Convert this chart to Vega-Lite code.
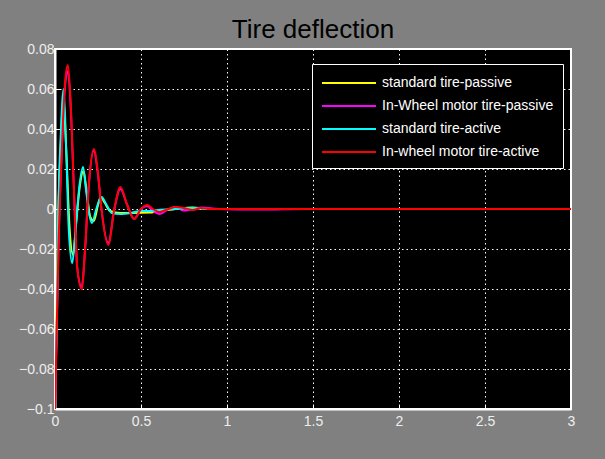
{
  "$schema": "https://vega.github.io/schema/vega-lite/v6.json",
  "width": 516,
  "height": 360,
  "autosize": {"type": "none"},
  "padding": {"left": 55, "top": 49, "right": 34, "bottom": 50},
  "background": "#808080",
  "title": {"text": "Tire deflection", "fontSize": 26, "font": "Liberation Sans", "fontWeight": "normal", "color": "#000000", "offset": -1, "anchor": "middle"},
  "config": {
    "view": {"fill": "#000000", "stroke": "#ffffff", "strokeWidth": 2},
    "axis": {
      "labelFont": "Liberation Sans", "labelFontSize": 14, "labelColor": "#eeeeee",
      "domainColor": "#ffffff", "domainWidth": 2, "tickColor": "#ffffff", "tickSize": -5,
      "gridColor": "#ffffff", "gridDash": [1.5, 3], "gridOpacity": 1, "gridWidth": 1,
      "title": null
    }
  },
  "data": {"values": [
    {"s": "standard tire-passive", "t": 0, "v": -0.085},
    {"s": "standard tire-passive", "t": 0.01, "v": -0.05},
    {"s": "standard tire-passive", "t": 0.02, "v": 0},
    {"s": "standard tire-passive", "t": 0.035, "v": 0.035},
    {"s": "standard tire-passive", "t": 0.048, "v": 0.056},
    {"s": "standard tire-passive", "t": 0.065, "v": 0.03},
    {"s": "standard tire-passive", "t": 0.085, "v": -0.01},
    {"s": "standard tire-passive", "t": 0.105, "v": -0.023},
    {"s": "standard tire-passive", "t": 0.125, "v": -0.005},
    {"s": "standard tire-passive", "t": 0.145, "v": 0.012},
    {"s": "standard tire-passive", "t": 0.165, "v": 0.019},
    {"s": "standard tire-passive", "t": 0.185, "v": 0.008},
    {"s": "standard tire-passive", "t": 0.205, "v": -0.004},
    {"s": "standard tire-passive", "t": 0.225, "v": -0.006},
    {"s": "standard tire-passive", "t": 0.25, "v": 0.002},
    {"s": "standard tire-passive", "t": 0.265, "v": 0.006},
    {"s": "standard tire-passive", "t": 0.29, "v": 0.003},
    {"s": "standard tire-passive", "t": 0.32, "v": -0.001},
    {"s": "standard tire-passive", "t": 0.38, "v": -0.002},
    {"s": "standard tire-passive", "t": 0.45, "v": -0.002},
    {"s": "standard tire-passive", "t": 0.55, "v": -0.0018},
    {"s": "standard tire-passive", "t": 0.6, "v": -0.001},
    {"s": "standard tire-passive", "t": 0.7, "v": 0},
    {"s": "standard tire-passive", "t": 0.8, "v": 0.0008},
    {"s": "standard tire-passive", "t": 0.9, "v": 0},
    {"s": "standard tire-passive", "t": 3, "v": 0},

    {"s": "In-Wheel motor tire-passive", "t": 0, "v": -0.098},
    {"s": "In-Wheel motor tire-passive", "t": 0.01, "v": -0.06},
    {"s": "In-Wheel motor tire-passive", "t": 0.02, "v": -0.02},
    {"s": "In-Wheel motor tire-passive", "t": 0.04, "v": 0.03},
    {"s": "In-Wheel motor tire-passive", "t": 0.06, "v": 0.063},
    {"s": "In-Wheel motor tire-passive", "t": 0.075, "v": 0.069},
    {"s": "In-Wheel motor tire-passive", "t": 0.09, "v": 0.053},
    {"s": "In-Wheel motor tire-passive", "t": 0.11, "v": 0.01},
    {"s": "In-Wheel motor tire-passive", "t": 0.13, "v": -0.03},
    {"s": "In-Wheel motor tire-passive", "t": 0.155, "v": -0.039},
    {"s": "In-Wheel motor tire-passive", "t": 0.175, "v": -0.02},
    {"s": "In-Wheel motor tire-passive", "t": 0.195, "v": 0.01},
    {"s": "In-Wheel motor tire-passive", "t": 0.225, "v": 0.029},
    {"s": "In-Wheel motor tire-passive", "t": 0.25, "v": 0.017},
    {"s": "In-Wheel motor tire-passive", "t": 0.27, "v": 0},
    {"s": "In-Wheel motor tire-passive", "t": 0.31, "v": -0.017},
    {"s": "In-Wheel motor tire-passive", "t": 0.345, "v": 0},
    {"s": "In-Wheel motor tire-passive", "t": 0.38, "v": 0.01},
    {"s": "In-Wheel motor tire-passive", "t": 0.42, "v": 0.002},
    {"s": "In-Wheel motor tire-passive", "t": 0.46, "v": -0.005},
    {"s": "In-Wheel motor tire-passive", "t": 0.5, "v": 0},
    {"s": "In-Wheel motor tire-passive", "t": 0.535, "v": 0.0015},
    {"s": "In-Wheel motor tire-passive", "t": 0.57, "v": -0.001},
    {"s": "In-Wheel motor tire-passive", "t": 0.61, "v": -0.0025},
    {"s": "In-Wheel motor tire-passive", "t": 0.66, "v": 0},
    {"s": "In-Wheel motor tire-passive", "t": 0.7, "v": 0.001},
    {"s": "In-Wheel motor tire-passive", "t": 0.75, "v": -0.0008},
    {"s": "In-Wheel motor tire-passive", "t": 0.85, "v": 0.0007},
    {"s": "In-Wheel motor tire-passive", "t": 0.95, "v": 0},
    {"s": "In-Wheel motor tire-passive", "t": 1.2, "v": -0.0003},
    {"s": "In-Wheel motor tire-passive", "t": 1.45, "v": 0},
    {"s": "In-Wheel motor tire-passive", "t": 3, "v": 0},

    {"s": "standard tire-active", "t": 0, "v": -0.09},
    {"s": "standard tire-active", "t": 0.01, "v": -0.06},
    {"s": "standard tire-active", "t": 0.02, "v": 0},
    {"s": "standard tire-active", "t": 0.035, "v": 0.04},
    {"s": "standard tire-active", "t": 0.05, "v": 0.06},
    {"s": "standard tire-active", "t": 0.065, "v": 0.03},
    {"s": "standard tire-active", "t": 0.08, "v": -0.01},
    {"s": "standard tire-active", "t": 0.1, "v": -0.027},
    {"s": "standard tire-active", "t": 0.12, "v": -0.01},
    {"s": "standard tire-active", "t": 0.14, "v": 0.01},
    {"s": "standard tire-active", "t": 0.163, "v": 0.021},
    {"s": "standard tire-active", "t": 0.18, "v": 0.01},
    {"s": "standard tire-active", "t": 0.2, "v": -0.003},
    {"s": "standard tire-active", "t": 0.215, "v": -0.007},
    {"s": "standard tire-active", "t": 0.24, "v": 0},
    {"s": "standard tire-active", "t": 0.27, "v": 0.006},
    {"s": "standard tire-active", "t": 0.3, "v": 0.002},
    {"s": "standard tire-active", "t": 0.33, "v": -0.002},
    {"s": "standard tire-active", "t": 0.38, "v": -0.0025},
    {"s": "standard tire-active", "t": 0.44, "v": -0.002},
    {"s": "standard tire-active", "t": 0.5, "v": -0.001},
    {"s": "standard tire-active", "t": 0.55, "v": -0.001},
    {"s": "standard tire-active", "t": 0.6, "v": -0.0005},
    {"s": "standard tire-active", "t": 0.7, "v": 0},
    {"s": "standard tire-active", "t": 0.8, "v": 0.0005},
    {"s": "standard tire-active", "t": 0.9, "v": 0},
    {"s": "standard tire-active", "t": 3, "v": 0},

    {"s": "In-wheel motor tire-active", "t": 0, "v": -0.1},
    {"s": "In-wheel motor tire-active", "t": 0.01, "v": -0.06},
    {"s": "In-wheel motor tire-active", "t": 0.02, "v": -0.02},
    {"s": "In-wheel motor tire-active", "t": 0.04, "v": 0.03},
    {"s": "In-wheel motor tire-active", "t": 0.06, "v": 0.065},
    {"s": "In-wheel motor tire-active", "t": 0.075, "v": 0.072},
    {"s": "In-wheel motor tire-active", "t": 0.09, "v": 0.055},
    {"s": "In-wheel motor tire-active", "t": 0.11, "v": 0.01},
    {"s": "In-wheel motor tire-active", "t": 0.13, "v": -0.03},
    {"s": "In-wheel motor tire-active", "t": 0.155, "v": -0.04},
    {"s": "In-wheel motor tire-active", "t": 0.175, "v": -0.02},
    {"s": "In-wheel motor tire-active", "t": 0.195, "v": 0.01},
    {"s": "In-wheel motor tire-active", "t": 0.225, "v": 0.03},
    {"s": "In-wheel motor tire-active", "t": 0.25, "v": 0.018},
    {"s": "In-wheel motor tire-active", "t": 0.27, "v": 0},
    {"s": "In-wheel motor tire-active", "t": 0.31, "v": -0.018},
    {"s": "In-wheel motor tire-active", "t": 0.345, "v": 0},
    {"s": "In-wheel motor tire-active", "t": 0.38, "v": 0.011},
    {"s": "In-wheel motor tire-active", "t": 0.42, "v": 0.002},
    {"s": "In-wheel motor tire-active", "t": 0.46, "v": -0.005},
    {"s": "In-wheel motor tire-active", "t": 0.5, "v": 0},
    {"s": "In-wheel motor tire-active", "t": 0.535, "v": 0.002},
    {"s": "In-wheel motor tire-active", "t": 0.57, "v": 0},
    {"s": "In-wheel motor tire-active", "t": 0.605, "v": -0.0015},
    {"s": "In-wheel motor tire-active", "t": 0.66, "v": 0},
    {"s": "In-wheel motor tire-active", "t": 0.7, "v": 0.001},
    {"s": "In-wheel motor tire-active", "t": 0.75, "v": 0.0005},
    {"s": "In-wheel motor tire-active", "t": 0.8, "v": -0.0005},
    {"s": "In-wheel motor tire-active", "t": 0.85, "v": 0.0005},
    {"s": "In-wheel motor tire-active", "t": 0.9, "v": 0},
    {"s": "In-wheel motor tire-active", "t": 3, "v": 0}
  ]},
  "mark": {"type": "line", "strokeWidth": 2, "clip": true, "interpolate": "monotone"},
  "encoding": {
    "x": {"field": "t", "type": "quantitative", "scale": {"domain": [0, 3], "nice": false},
      "axis": {"values": [0, 0.5, 1, 1.5, 2, 2.5, 3], "format": "~g", "labelPadding": 10, "labelFlush": false}},
    "y": {"field": "v", "type": "quantitative", "scale": {"domain": [-0.1, 0.08], "nice": false, "zero": false},
      "axis": {"values": [-0.1, -0.08, -0.06, -0.04, -0.02, 0, 0.02, 0.04, 0.06, 0.08], "labelPadding": 6, "labelFlush": false, "labelExpr": "datum.value == 0 ? '0' : format(datum.value, '.2~f')"}},
    "color": {"field": "s", "type": "nominal",
      "scale": {"domain": ["standard tire-passive", "In-Wheel motor tire-passive", "standard tire-active", "In-wheel motor tire-active"],
        "range": ["#ffff00", "#ff00ff", "#00ffff", "#ff0000"]},
      "legend": {"title": null, "orient": "none", "legendX": 257, "legendY": 15,
        "fillColor": "#000000", "strokeColor": "#ffffff", "padding": 9,
        "symbolType": "M-1,0H5", "symbolSize": 324, "symbolStrokeWidth": 2, "symbolFillColor": "transparent",
        "labelColor": "#ffffff", "labelFont": "Liberation Sans", "labelFontSize": 14, "labelOffset": 41, "labelLimit": 300,
        "rowPadding": 6}
    }
  }
}
